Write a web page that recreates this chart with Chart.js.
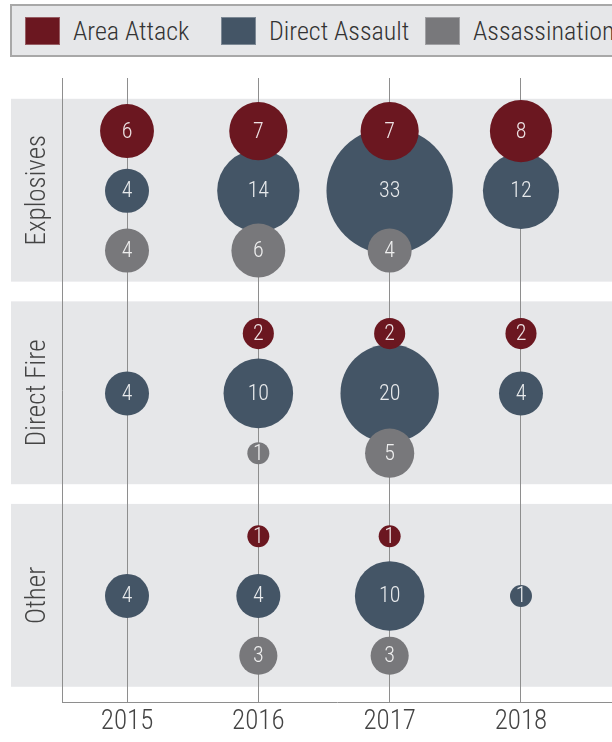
<!DOCTYPE html>
<html>
<head>
<meta charset="utf-8">
<script src="https://cdn.jsdelivr.net/npm/chart.js@4.4.1/dist/chart.umd.min.js"></script>
<style>
  html, body { margin: 0; padding: 0; background: #fff; }
  #wrap { position: relative; width: 612px; height: 742px; overflow: hidden; }
  #chart { position: absolute; left: 0; top: 0; }
  #legend {
    position: absolute; left: 10px; top: 4px; width: 640px; height: 53px;
    background: #e6e7e9; border: 2px solid #a8a8a8; box-sizing: border-box;
    display: flex; align-items: center; padding-left: 13px;
    font-family: Roboto, sans-serif; font-stretch: condensed; font-weight: 300;
    font-size: 26px; color: #333; white-space: nowrap;
  }
  #legend .item { display: flex; align-items: center; flex: none; }
  #legend .item:nth-child(1) { width: 196px; }
  #legend .item:nth-child(2) { width: 204px; }
  #legend .sw { width: 33px; height: 26px; border: 1px solid rgba(255,255,255,0.3); margin-right: 13px; }
</style>
</head>
<body>
<div id="wrap">
  <canvas id="chart" width="612" height="742"></canvas>
  <div id="legend"></div>
</div>
<script>
(() => {
  'use strict'

  const years = [2015, 2016, 2017, 2018]
  const groups = ['Explosives', 'Direct Fire', 'Other']
  const seriesNames = ['Area Attack', 'Direct Assault', 'Assassination']
  const colors = ['#6b1720', '#445566', '#78787b']

  // counts per group (Explosives, Direct Fire, Other), one value per year
  const areaAttack = [
    [6, 7, 7, 8],
    [null, 2, 2, 2],
    [null, 1, 1, null]
  ]
  const directAssault = [
    [4, 14, 33, 12],
    [4, 10, 20, 4],
    [4, 4, 10, 1]
  ]
  const assassination = [
    [4, 6, 4, null],
    [null, 1, 5, null],
    [null, 3, 3, null]
  ]

  const FONT = 'Roboto, sans-serif'
  const COND = 'condensed 300'  // goes in the weight slot of the font string
  const BAND_STEP = 3.39   // rows between group starts
  const RADIUS_K = 11      // px radius for a count of 1

  // big bubbles should not shrink the plot area
  Chart.BubbleController.prototype.getMaxOverflow = () => false

  const seriesValues = [areaAttack, directAssault, assassination]

  const datasets = seriesNames.map((name, s) => {
    const pts = []
    groups.forEach((g, gi) => {
      seriesValues[s][gi].forEach((v, i) => {
        if (v == null) return
        pts.push({ x: years[i], y: gi * BAND_STEP + s, r: RADIUS_K * Math.sqrt(v), v })
      })
    })
    return {
      label: name,
      data: pts,
      backgroundColor: colors[s],
      borderWidth: 0,
      hoverBorderWidth: 0,
      clip: false,
      order: name === 'Direct Assault' ? 1 : 0
    }
  })

  // html legend
  const legend = document.getElementById('legend')
  seriesNames.forEach((name, s) => {
    const item = document.createElement('div')
    item.className = 'item'
    item.innerHTML = '<span class="sw" style="background:' + colors[s] + '"></span><span>' + name + '</span>'
    legend.appendChild(item)
  })

  const bands = {
    id: 'bands',
    beforeDraw(chart) {
      const { ctx, scales: { y } } = chart
      ctx.save()
      groups.forEach((name, gi) => {
        const top = y.getPixelForValue(gi * BAND_STEP - 0.54)
        const bottom = y.getPixelForValue(gi * BAND_STEP + 2.52)
        ctx.fillStyle = '#e6e7e9'
        ctx.fillRect(11, top, chart.width - 11, bottom - top)
        ctx.save()
        ctx.translate(38, (top + bottom) / 2)
        ctx.rotate(-Math.PI / 2)
        ctx.textAlign = 'center'
        ctx.textBaseline = 'middle'
        ctx.fillStyle = '#444'
        ctx.font = COND + ' 27px ' + FONT
        ctx.fillText(name, 0, 0)
        ctx.restore()
      })
      ctx.restore()
    }
  }

  const bubbleLabels = {
    id: 'bubbleLabels',
    afterDatasetsDraw(chart) {
      const { ctx } = chart
      ctx.save()
      ctx.textAlign = 'center'
      ctx.textBaseline = 'middle'
      ctx.fillStyle = 'rgba(255,255,255,0.88)'
      ctx.font = COND + ' 22px ' + FONT
      chart.data.datasets.forEach((ds, di) => {
        chart.getDatasetMeta(di).data.forEach((el, i) => {
          ctx.fillText(ds.data[i].v, el.x, el.y + 1)
        })
      })
      ctx.restore()
    }
  }

  new Chart(document.getElementById('chart'), {
    type: 'bubble',
    data: { datasets },
    options: {
      responsive: false,
      animation: false,
      devicePixelRatio: 1,
      events: [],
      layout: { padding: { top: 78, left: 62, right: 0, bottom: 1 } },
      plugins: {
        legend: { display: false },
        tooltip: { enabled: false }
      },
      scales: {
        x: {
          type: 'linear',
          min: 2014.505,
          max: 2018.693,
          afterBuildTicks: (scale) => { scale.ticks = years.map(v => ({ value: v })) },
          grid: { color: '#8e8e8e', lineWidth: 1, drawTicks: false },
          border: { display: true, color: '#8e8e8e', width: 1 },
          ticks: {
            padding: 3,
            color: '#444',
            font: { family: FONT, size: 27, weight: COND },
            callback: (v) => String(v)
          }
        },
        y: {
          type: 'linear',
          reverse: true,
          min: -0.888,
          max: 9.565,
          grid: { display: false, drawTicks: false },
          border: { display: true, color: '#8e8e8e', width: 1 },
          ticks: { display: false }
        }
      }
    },
    plugins: [bands, bubbleLabels]
  })
})()
</script>
</body>
</html>
